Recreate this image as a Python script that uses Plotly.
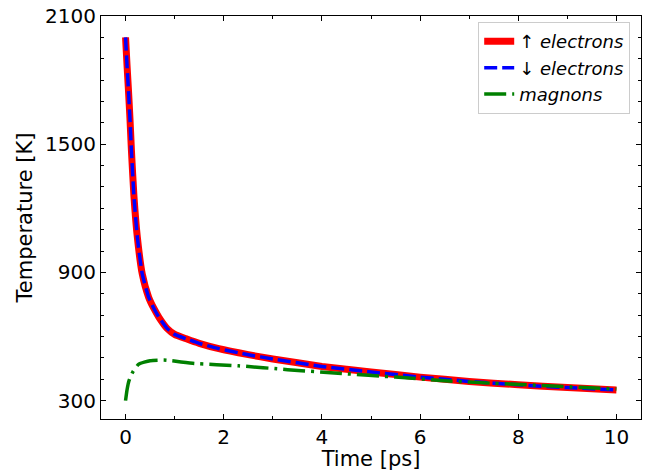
import plotly.graph_objects as go

# data
t_el = [0, 0.03, 0.06, 0.09, 0.12, 0.17, 0.24, 0.34, 0.47, 0.58, 0.68, 0.85, 1.0, 1.25, 1.5,
        1.9, 2.5, 3, 4, 5, 6, 7, 8, 9, 10]
T_up = [2000, 1870, 1750, 1620, 1470, 1260, 1065, 893, 784, 730, 690, 637, 610, 588, 568,
        543, 515, 495, 460, 434, 410, 390, 374, 361, 350]
T_down = [2000, 1870, 1750, 1620, 1470, 1260, 1065, 893, 784, 730, 690, 637, 610, 588, 568,
          543, 515, 495, 460, 434, 410, 390, 374, 361, 350]

t_mag = [0, 0.03, 0.07, 0.15, 0.27, 0.5, 0.78, 1.4, 2.3, 3.3, 4.4, 5.5, 6.5, 7.5, 8.6, 10]
T_mag = [300, 350, 393, 435, 471, 487, 490, 474, 463, 445, 427, 410, 393, 381, 370, 354]

font = "DejaVu Sans"

fig = go.Figure()
fig.add_trace(go.Scatter(x=t_el, y=T_up, mode="lines", name="↑ <i>electrons</i>",
                         line=dict(color="#ff0000", width=7, shape="spline", smoothing=0.5)))
fig.add_trace(go.Scatter(x=t_el, y=T_down, mode="lines", name="↓ <i>electrons</i>",
                         line=dict(color="#0000ff", width=3.5, dash="13px,5px",
                                   shape="spline", smoothing=0.5)))
fig.add_trace(go.Scatter(x=t_mag, y=T_mag, mode="lines", name="<i>magnons</i>",
                         line=dict(color="#008000", width=3.5, dash="22px,6px,3px,6px",
                                   shape="spline", smoothing=0.5)))

axis_common = dict(showline=True, linecolor="black", linewidth=1, mirror="ticks",
                   ticks="inside", ticklen=5, tickwidth=1, tickcolor="black",
                   showgrid=False, zeroline=False, automargin=False,
                   tickfont=dict(family=font, size=20, color="black"),
                   title_font=dict(family=font, size=21, color="black"))

fig.update_xaxes(range=[-0.5, 10.5], tickvals=[0, 2, 4, 6, 8, 10],
                 minor=dict(dtick=1, tick0=0, ticks="inside", ticklen=3, tickcolor="black"),
                 title_text="Time [ps]", title_standoff=4, **axis_common)
fig.update_yaxes(range=[214, 2100], tickvals=[300, 900, 1500, 2100],
                 minor=dict(dtick=100, tick0=0, ticks="inside", ticklen=3, tickcolor="black"),
                 title_text="Temperature [K]", title_standoff=6, **axis_common)

fig.update_layout(
    width=654, height=471,
    margin=dict(l=101, r=13, t=16, b=52),
    plot_bgcolor="white", paper_bgcolor="white",
    font=dict(family=font, color="black"),
    legend=dict(x=0.98, y=0.985, xanchor="right", yanchor="top",
                bgcolor="white", bordercolor="#cccccc", borderwidth=1,
                font=dict(family=font, size=18, color="black")),
)

# drop the default 8px page margin so the figure sits at the window corner
fig.write_html("out.html", config={"displayModeBar": False},
               post_script="document.body.style.margin='0';")
